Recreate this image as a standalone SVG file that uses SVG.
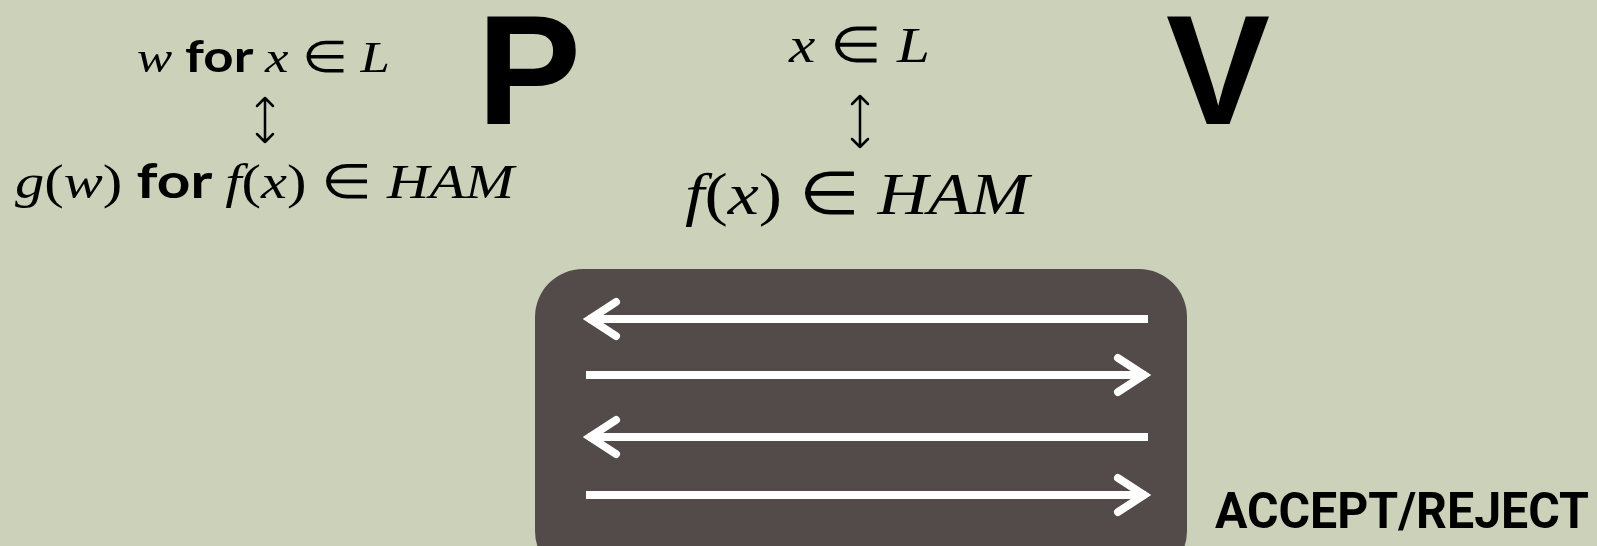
<svg xmlns="http://www.w3.org/2000/svg" width="1597" height="546" viewBox="0 0 1597 546">
<style>
.m{font-family:"Liberation Serif",serif;font-style:italic}
.r{font-family:"Liberation Serif",serif}
.b{font-family:Lato,"Liberation Sans",sans-serif;font-weight:bold}
.big{font-family:"Liberation Sans",Arial,sans-serif;font-weight:bold;font-size:156px;fill:#000}
.va{fill:none;stroke:#000;stroke-width:2.5;stroke-linecap:round;stroke-linejoin:round}
.wa{fill:none;stroke:#fff;stroke-width:8}
.wh{fill:none;stroke:#fff;stroke-width:8;stroke-linecap:round;stroke-linejoin:miter}
</style>
<rect width="1597" height="546" fill="#CCD1BA"/>
<g id="prover-label">
<text class="big" x="529" y="124" text-anchor="middle">P</text>
</g>
<g id="verifier-label">
<text class="big" x="1218" y="124" text-anchor="middle">V</text>
</g>
<g id="prover-text">
<text x="137" y="72" font-size="44" fill="#000" textLength="253" lengthAdjust="spacingAndGlyphs"><tspan class="m">w</tspan><tspan class="b"> for </tspan><tspan class="m">x</tspan><tspan class="r"> ∈ </tspan><tspan class="m">L</tspan></text>
<text x="15" y="198" font-size="48" fill="#000" textLength="499" lengthAdjust="spacingAndGlyphs"><tspan class="m">g</tspan><tspan class="r">(</tspan><tspan class="m">w</tspan><tspan class="r">)</tspan><tspan class="b"> for </tspan><tspan class="m">f</tspan><tspan class="r">(</tspan><tspan class="m">x</tspan><tspan class="r">) ∈ </tspan><tspan class="m">HAM</tspan></text>
</g>
<g id="verifier-text">
<text x="789" y="62" font-size="50" fill="#000" textLength="141" lengthAdjust="spacingAndGlyphs"><tspan class="m">x</tspan><tspan class="r"> ∈ </tspan><tspan class="m">L</tspan></text>
<text x="685" y="214" font-size="60" fill="#000" textLength="344" lengthAdjust="spacingAndGlyphs"><tspan class="m">f</tspan><tspan class="r">(</tspan><tspan class="m">x</tspan><tspan class="r">) ∈ </tspan><tspan class="m">HAM</tspan></text>
</g>
<g id="interaction-box">
<rect x="535" y="269" width="652" height="310" rx="48" ry="48" fill="#534A4A"/>
</g>
<g id="connectors">
<path class="va" d="M265 98V142M257 106L265 98L273 106M257 134L265 142L273 134"/>
<path class="va" d="M860 96V147M852 104L860 96L868 104M852 139L860 147L868 139"/>
<path class="wa" d="M588 319H1148"/>
<path class="wh" d="M616 302L590 319L616 336"/>
<path class="wa" d="M586 375H1146"/>
<path class="wh" d="M1118 358L1144 375L1118 392"/>
<path class="wa" d="M588 437H1148"/>
<path class="wh" d="M616 420L590 437L616 454"/>
<path class="wa" d="M586 495H1146"/>
<path class="wh" d="M1118 478L1144 495L1118 512"/>
</g>
<g id="result">
<text x="1215" y="528" font-family="Roboto,'Liberation Sans',sans-serif" font-weight="bold" font-size="50" fill="#000" textLength="374" lengthAdjust="spacingAndGlyphs">ACCEPT/REJECT</text>
</g>
</svg>
